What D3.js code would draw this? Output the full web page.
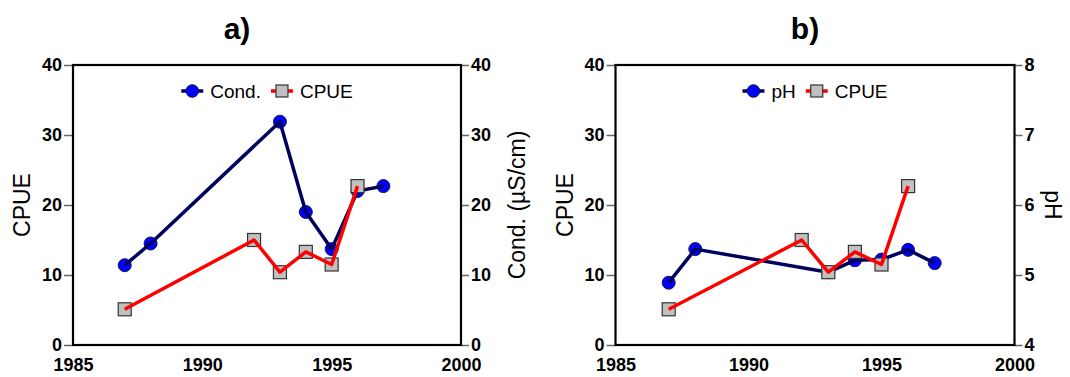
<!DOCTYPE html>
<html>
<head>
<meta charset="utf-8">
<script src="https://cdn.jsdelivr.net/npm/d3@7"></script>
<style>
  body { margin: 0; background: #fff; }
  text { font-family: "Liberation Sans", Arial, sans-serif; }
</style>
</head>
<body>
<script>
// data
var condYears = [1987, 1988, 1993, 1994, 1995, 1996, 1997];
var condValues = [11.4, 14.5, 31.9, 19.0, 13.7, 22.0, 22.7];

var phYears = [1987, 1988, 1993, 1994, 1995, 1996, 1997];
var phValues = [4.89, 5.37, 5.04, 5.21, 5.22, 5.36, 5.17];

var cpueYears = [1987, 1992, 1993, 1994, 1995, 1996];
var cpueValues = [5.1, 15.0, 10.4, 13.3, 11.5, 22.7];

var yearTicks = [1985, 1990, 1995, 2000];
var cpueTicks = [0, 10, 20, 30, 40];
var condTicks = [0, 10, 20, 30, 40];
var phTicks = [4, 5, 6, 7, 8];

var width = 1070, height = 377;

var svg = d3.select("body").append("svg")
    .attr("width", width)
    .attr("height", height);

svg.append("rect").attr("width", width).attr("height", height).attr("fill", "#fff");

function zip(xs, ys) {
    return xs.map(function(x, i) { return [x, ys[i]]; });
}

function drawPanel(p) {
    var g = svg.append("g");

    var x = d3.scaleLinear().domain([1985, 2000]).range([p.left, p.right]);
    var yL = d3.scaleLinear().domain([0, 40]).range([p.bottom, p.top]);
    var yR = d3.scaleLinear().domain(p.rightDomain).range([p.bottom, p.top]);

    // left axis
    var axL = g.append("g")
        .attr("transform", "translate(" + p.left + ",0)")
        .call(d3.axisLeft(yL).tickValues(cpueTicks).tickFormat(d3.format("d")).tickSize(9).tickPadding(2));
    // right axis
    var axR = g.append("g")
        .attr("transform", "translate(" + p.right + ",0)")
        .call(d3.axisRight(yR).tickValues(p.rightTicks).tickFormat(d3.format("d")).tickSize(8).tickPadding(2));
    // bottom axis, labels only
    var axB = g.append("g")
        .attr("transform", "translate(0," + p.bottom + ")")
        .call(d3.axisBottom(x).tickValues(yearTicks).tickFormat(d3.format("d")).tickSize(0).tickPadding(13));

    [axL, axR, axB].forEach(function(a) {
        a.select(".domain").remove();
        a.selectAll(".tick line").attr("stroke", "#666").attr("stroke-width", 1.5);
        a.selectAll(".tick text")
            .attr("fill", "#000")
            .style("font-size", "18px")
            .style("font-weight", "bold");
    });

    // frame
    g.append("rect")
        .attr("x", p.left).attr("y", p.top)
        .attr("width", p.right - p.left).attr("height", p.bottom - p.top)
        .attr("fill", "none").attr("stroke", "#000").attr("stroke-width", 2.2);

    var line = d3.line();

    // blue series (circles then line)
    var blue = zip(p.blueYears, p.blueValues);
    g.selectAll(".bdot").data(blue).enter().append("circle")
        .attr("class", "bdot")
        .attr("cx", function(d) { return x(d[0]); })
        .attr("cy", function(d) { return yR(d[1]); })
        .attr("r", 6.5)
        .attr("fill", "#0000ff").attr("stroke", "#1a1a40").attr("stroke-width", 1);
    g.append("path")
        .attr("d", line(blue.map(function(d) { return [x(d[0]), yR(d[1])]; })))
        .attr("fill", "none").attr("stroke", "#00005e").attr("stroke-width", 3.5)
        .attr("stroke-linejoin", "round");

    // CPUE series (squares then line)
    var cpue = zip(cpueYears, cpueValues);
    g.selectAll(".sq").data(cpue).enter().append("rect")
        .attr("class", "sq")
        .attr("x", function(d) { return x(d[0]) - 6.5; })
        .attr("y", function(d) { return yL(d[1]) - 6.5; })
        .attr("width", 13).attr("height", 13)
        .attr("fill", "#c0c0c0").attr("stroke", "#333").attr("stroke-width", 1.2);
    g.append("path")
        .attr("d", line(cpue.map(function(d) { return [x(d[0]), yL(d[1])]; })))
        .attr("fill", "none").attr("stroke", "#ff0000").attr("stroke-width", 3.5)
        .attr("stroke-linejoin", "round");

    // legend
    var lg = g.append("g");
    var items = [
        { label: p.blueLabel, type: "circle" },
        { label: "CPUE", type: "square" }
    ];
    var cx = 0;
    items.forEach(function(it) {
        var ig = lg.append("g");
        if (it.type === "circle") {
            ig.append("line").attr("x1", 0).attr("x2", 22).attr("stroke", "#00005e").attr("stroke-width", 3.5);
            ig.append("circle").attr("cx", 11).attr("r", 6.3).attr("fill", "#0000ff").attr("stroke", "#1a1a40");
        } else {
            ig.append("line").attr("x1", 0).attr("x2", 22).attr("stroke", "#ff0000").attr("stroke-width", 3.5);
            ig.append("rect").attr("x", 5).attr("y", -6).attr("width", 12).attr("height", 12)
                .attr("fill", "#c0c0c0").attr("stroke", "#333").attr("stroke-width", 1.2);
        }
        var t = ig.append("text").attr("x", 29).attr("dy", "0.35em")
            .style("font-size", "19px").text(it.label);
        var w = 29 + t.node().getComputedTextLength();
        ig.attr("transform", "translate(" + cx + ",0)");
        cx += w + 10;
    });
    var total = cx - 10;
    var mid = (p.left + p.right) / 2;
    lg.attr("transform", "translate(" + (mid - total / 2) + ",91)");

    // titles
    g.append("text").attr("x", p.titleX).attr("y", 39)
        .attr("text-anchor", "middle")
        .style("font-size", "30px").style("font-weight", "bold")
        .text(p.title);

    var midY = (p.top + p.bottom) / 2;
    g.append("text")
        .attr("transform", "translate(" + p.leftLabelX + "," + midY + ") rotate(-90)")
        .attr("text-anchor", "middle")
        .style("font-size", "23px")
        .text("CPUE");

    g.append("text")
        .attr("transform", "translate(" + p.rightLabelX + "," + midY + ") rotate(" + p.rightRotate + ")")
        .attr("text-anchor", "middle")
        .style("font-size", "23px")
        .text(p.rightLabel);
}

drawPanel({
    left: 73, right: 461, top: 65, bottom: 345,
    rightDomain: [0, 40], rightTicks: condTicks,
    blueYears: condYears, blueValues: condValues, blueLabel: "Cond.",
    title: "a)", titleX: 237,
    leftLabelX: 30, rightLabelX: 525, rightRotate: -90,
    rightLabel: "Cond. (\u00b5S/cm)"
});

drawPanel({
    left: 615.5, right: 1014.5, top: 65, bottom: 345,
    rightDomain: [4, 8], rightTicks: phTicks,
    blueYears: phYears, blueValues: phValues, blueLabel: "pH",
    title: "b)", titleX: 805,
    leftLabelX: 573, rightLabelX: 1045, rightRotate: 90,
    rightLabel: "pH"
});
</script>
</body>
</html>
